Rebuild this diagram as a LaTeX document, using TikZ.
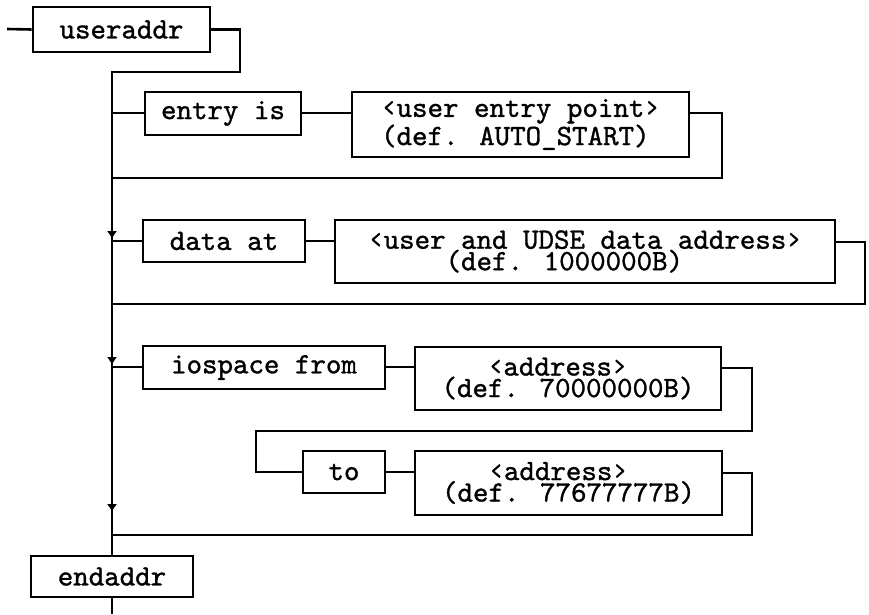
\documentclass[tikz,border=0pt]{standalone}
\usepackage{fontspec}
\usetikzlibrary{arrows.meta}
% a heavier cut of the typewriter face for the box labels
\newfontfamily\boxtt{lmmono10-regular}[Extension=.otf, FakeBold=1.1]
\begin{document}
\begin{tikzpicture}[x=1pt,y=-1pt,
  line width=2.6pt, line join=miter,
  kw/.style={draw, inner sep=0pt, font=\fontsize{29.5}{21.5}\selectfont\boxtt},
  arg/.style={kw, align=left},
  flow/.style={-{Triangle[width=9pt,length=7pt]}}]
\useasboundingbox (0,0) rectangle (869,614);

% boxes
\node[kw, minimum width=177pt, minimum height=45pt] (user) at (121.5,29.5) {useraddr};
\node[kw, minimum width=156pt, minimum height=43pt] (entry) at (223,113.5) {entry is};
\node[arg, minimum width=337pt, minimum height=65pt] (uep) at (520.5,124.5)
  {‹user entry point›\\(def. AUTO\_START)};
\node[kw, minimum width=162pt, minimum height=42pt] (data) at (224,241) {data at};
\node[arg, minimum width=500pt, minimum height=63pt] (udse) at (585,251.5)
  {‹user and UDSE data address›\\\hphantom{xxxxx}(def. 1000000B)};
\node[kw, minimum width=242pt, minimum height=43pt] (io) at (264,367.5) {iospace from};
\node[arg, minimum width=306pt, minimum height=63pt] (adra) at (568,378.5)
  {\hphantom{xxx}‹address›\\(def. 70000000B)};
\node[kw, minimum width=82pt, minimum height=42pt] (to) at (344,472) {to};
\node[arg, minimum width=307pt, minimum height=64pt] (adrb) at (568.5,483)
  {\hphantom{xxx}‹address›\\(def. 77677777B)};
\node[kw, minimum width=162pt, minimum height=41pt] (end) at (112,576.5) {endaddr};

% entry and exit points
\coordinate (in) at (7,29);
\coordinate (out) at (112,614);
\coordinate (t0) at (112,72);
\coordinate (j1) at (112,113);
\coordinate (r1) at (112,178);
\coordinate (j2) at (112,241);
\coordinate (r2) at (112,304);
\coordinate (j3) at (112,367);
\coordinate (r3) at (112,535);

% main line
\draw (in) -- (user.west);
\draw (user.east) -| (240,72) -- (t0) -- (end.north);
\draw (end.south) -- (out);

% entry is
\draw (j1) -- (j1 -| entry.west);
\draw (entry.east |- j1) -- (j1 -| uep.west);
\draw (689,113) -| (722,178) -- (r1);

% data at
\draw (j2) -- (j2 -| data.west);
\draw (data.east |- j2) -- (j2 -| udse.west);
\draw (835,242) -| (865,304) -- (r2);

% iospace from ... to
\draw (j3) -- (j3 -| io.west);
\draw (io.east |- j3) -- (j3 -| adra.west);
\draw (721,368) -| (752,431) -| (256,472) -- (to.west);
\draw (to.east) -- (to.east -| adrb.west);
\draw (722,473) -| (752,535) -- (r3);

% flow arrows on the main line
\draw[flow] (112,222) -- (112,238);
\draw[flow] (112,349) -- (112,364);
\draw[flow] (112,490) -- (112,511);
\end{tikzpicture}
\end{document}
